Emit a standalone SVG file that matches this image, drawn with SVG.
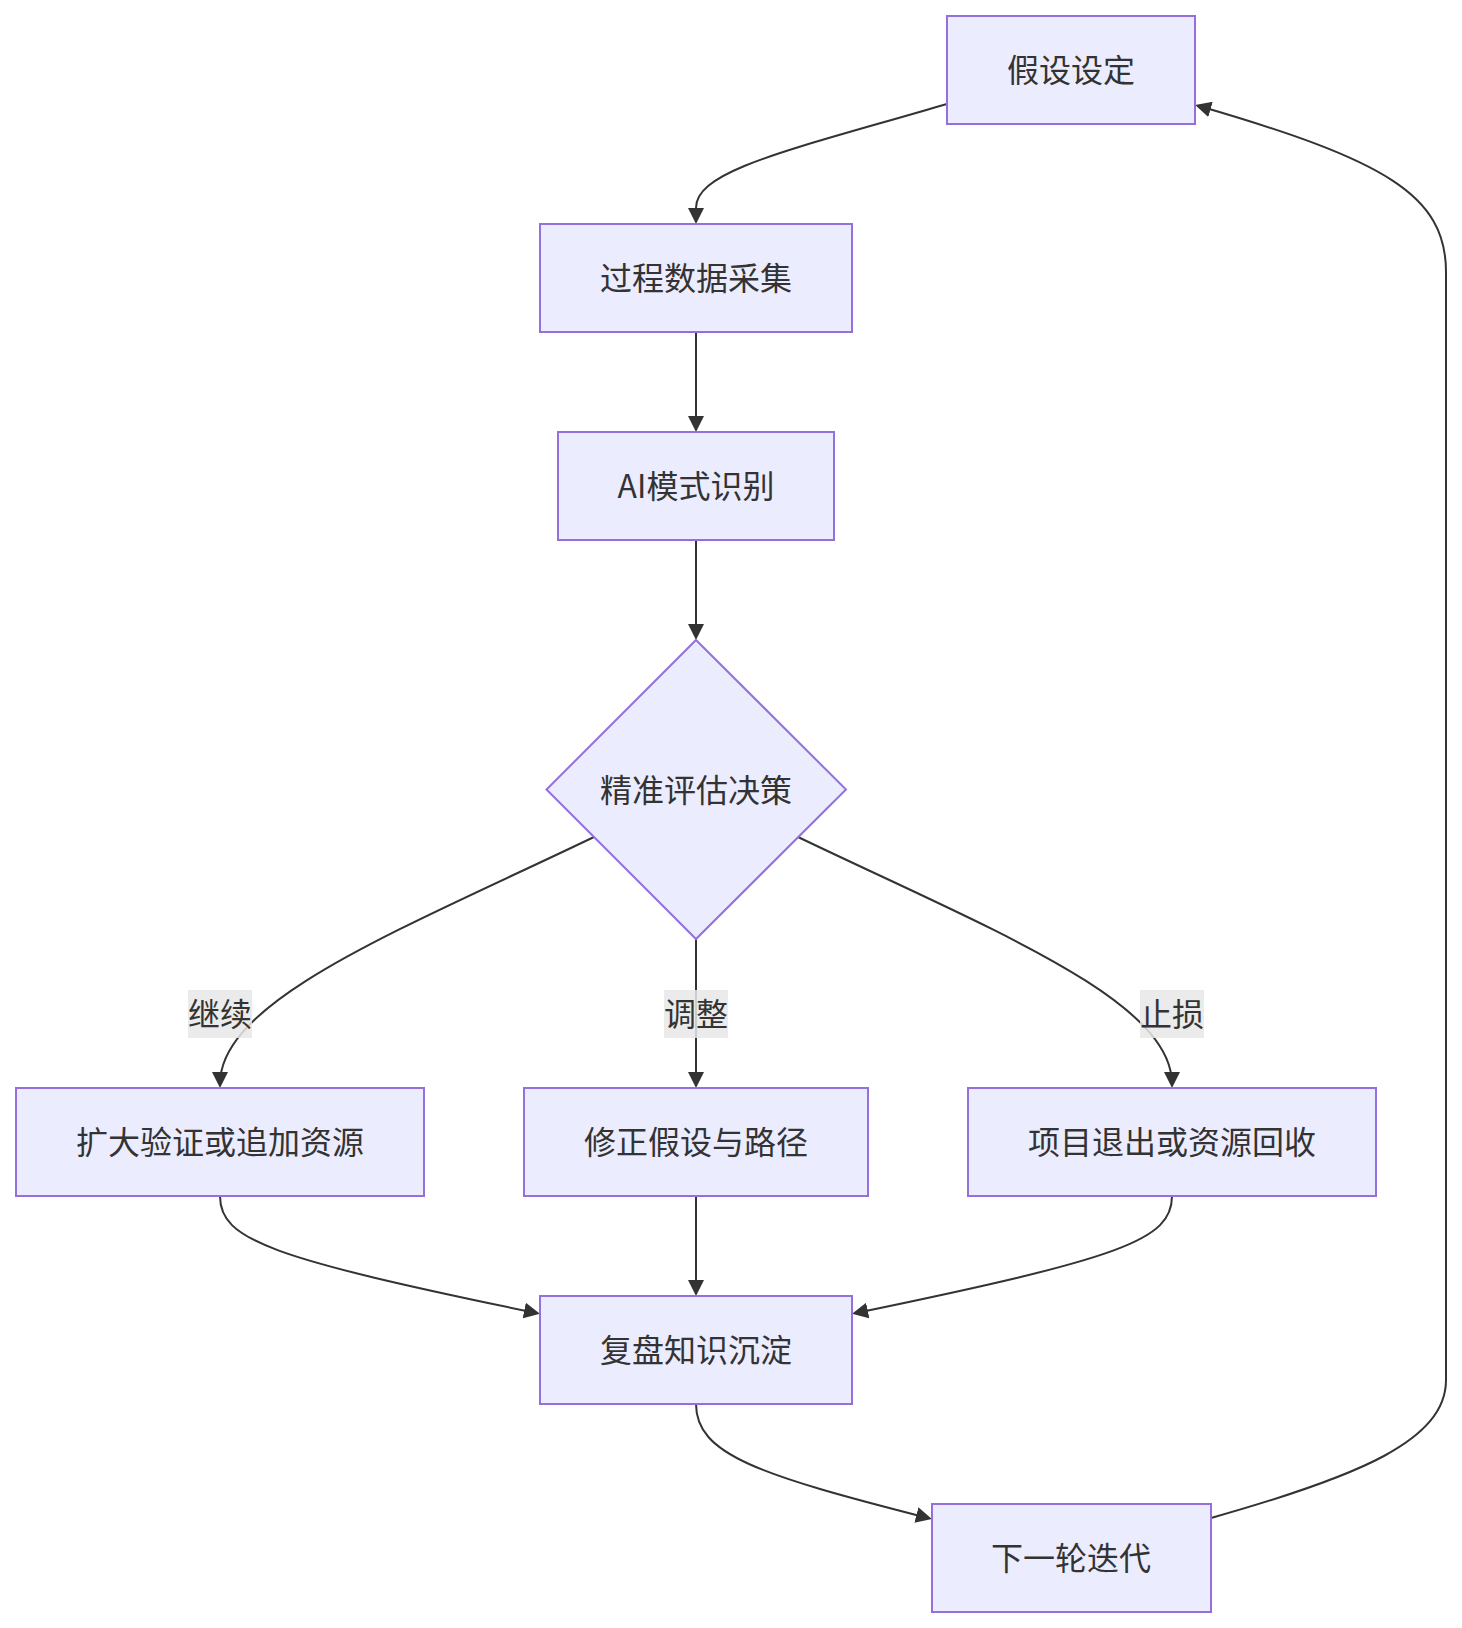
<svg xmlns="http://www.w3.org/2000/svg" width="1462" height="1628" viewBox="0 0 1462 1628">
<style>
.node rect,.node polygon{fill:#ECECFF;stroke:#9370DB;stroke-width:2}
.node text,.label text{font-family:"Noto Sans CJK SC","Noto Sans",sans-serif;font-size:32px;fill:#333;text-anchor:middle;dominant-baseline:central}
.edge{fill:none;stroke:#333;stroke-width:2}
.label rect{fill:#e8e8e8;fill-opacity:0.85}
</style>
<defs>
<marker id="arrow" viewBox="0 0 10 10" refX="7.5" refY="5" markerWidth="16" markerHeight="16" markerUnits="userSpaceOnUse" orient="auto">
<path d="M0,0 L10,5 L0,10 z" fill="#333"/>
</marker>
</defs>
<rect width="1462" height="1628" fill="#fff"/>
<g id="connectors">
<path class="edge" marker-end="url(#arrow)" d="M947,104 C790,150 696,170 696,208 L696,220"/>
<path class="edge" marker-end="url(#arrow)" d="M696,332 L696,428"/>
<path class="edge" marker-end="url(#arrow)" d="M696,540 L696,636"/>
<path class="edge" marker-end="url(#arrow)" d="M594,837 C400,930 220,1000 220,1084"/>
<path class="edge" marker-end="url(#arrow)" d="M696,939 L696,1084"/>
<path class="edge" marker-end="url(#arrow)" d="M798,837 C992,930 1172,1000 1172,1084"/>
<path class="edge" marker-end="url(#arrow)" d="M220,1196 C220,1240 270,1258 536,1313"/>
<path class="edge" marker-end="url(#arrow)" d="M696,1196 L696,1292"/>
<path class="edge" marker-end="url(#arrow)" d="M1172,1196 C1172,1240 1122,1258 856,1313"/>
<path class="edge" marker-end="url(#arrow)" d="M696,1404 C696,1455 760,1475 928,1518"/>
<path class="edge" marker-end="url(#arrow)" d="M1211,1518 C1360,1476 1446,1440 1446,1380 L1446,272 C1446,195 1385,160 1199,106"/>
</g>
<g id="edge-labels">
<g class="label" id="label-continue"><rect x="188" y="990" width="64" height="48"/><text x="220" y="1012">继续</text></g>
<g class="label" id="label-adjust"><rect x="664" y="990" width="64" height="48"/><text x="696" y="1012">调整</text></g>
<g class="label" id="label-stop"><rect x="1140" y="990" width="64" height="48"/><text x="1172" y="1012">止损</text></g>
</g>
<g class="node" id="A"><rect x="947" y="16" width="248" height="108"/><text x="1071" y="68">假设设定</text></g>
<g class="node" id="B"><rect x="540" y="224" width="312" height="108"/><text x="696" y="276">过程数据采集</text></g>
<g class="node" id="C"><rect x="558" y="432" width="276" height="108"/><text x="696" y="484">AI模式识别</text></g>
<g class="node" id="D"><polygon points="696,640 846,789.5 696,939 546.5,789.5"/><text x="696" y="788">精准评估决策</text></g>
<g class="node" id="E"><rect x="16" y="1088" width="408" height="108"/><text x="220" y="1140">扩大验证或追加资源</text></g>
<g class="node" id="F"><rect x="524" y="1088" width="344" height="108"/><text x="696" y="1140">修正假设与路径</text></g>
<g class="node" id="G"><rect x="968" y="1088" width="408" height="108"/><text x="1172" y="1140">项目退出或资源回收</text></g>
<g class="node" id="H"><rect x="540" y="1296" width="312" height="108"/><text x="696" y="1348">复盘知识沉淀</text></g>
<g class="node" id="I"><rect x="932" y="1504" width="279" height="108"/><text x="1071" y="1556">下一轮迭代</text></g>
</svg>
